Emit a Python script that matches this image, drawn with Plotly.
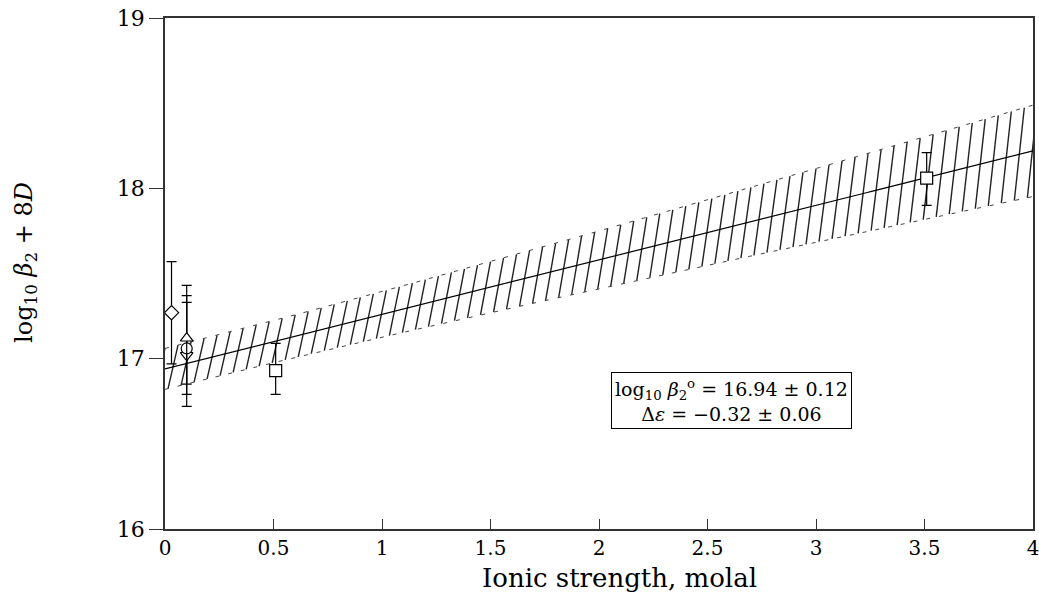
import numpy as np
import plotly.graph_objects as go

# ---- data ----
fit_intercept = 16.94
fit_intercept_err = 0.12
fit_slope = 0.32          # = -Δε
fit_slope_err = 0.06

diamond_I = [0.03]
diamond_y = [17.27]
diamond_err_plus = [0.30]
diamond_err_minus = [0.30]

tri_up_I = [0.10]
tri_up_y = [17.12]
tri_up_err_plus = [0.31]
tri_up_err_minus = [0.27]

circle_I = [0.10]
circle_y = [17.06]
circle_err_plus = [0.31]
circle_err_minus = [0.27]

tri_down_I = [0.10]
tri_down_y = [17.02]
tri_down_err_plus = [0.31]
tri_down_err_minus = [0.30]

square_I = [0.51, 3.51]
square_y = [16.93, 18.06]
square_err_plus = [0.16, 0.15]
square_err_minus = [0.14, 0.16]

x_ticks = [0, 0.5, 1, 1.5, 2, 2.5, 3, 3.5, 4]
y_ticks = [16, 17, 18, 19]

FONT = "DejaVu Serif"

# ---- fit line and uncertainty band ----
xs = np.linspace(0, 4, 200)
center = fit_intercept + fit_slope * xs
def half(x):
    return np.sqrt(fit_intercept_err**2 + (fit_slope_err * x) ** 2)
lo = center - half(xs)
hi = center + half(xs)

# hatch segments (steep diagonal lines across the band)
hatch_dx = 0.046
hatch_step = 0.06
hx, hy = [], []
for x0 in np.arange(-hatch_dx, 4.0 + hatch_step, hatch_step):
    x1 = x0 + hatch_dx
    y0 = fit_intercept + fit_slope * x0 - half(x0)
    y1 = fit_intercept + fit_slope * x1 + half(x1)
    hx += [x0, x1, None]
    hy += [y0, y1, None]

fig = go.Figure()

fig.add_trace(go.Scatter(x=hx, y=hy, mode="lines",
                         line=dict(color="#222", width=1.4), hoverinfo="skip"))
for b in (lo, hi):
    fig.add_trace(go.Scatter(x=xs, y=b, mode="lines",
                             line=dict(color="#444", width=1, dash="4px,9px"),
                             hoverinfo="skip"))
fig.add_trace(go.Scatter(x=xs, y=center, mode="lines",
                         line=dict(color="black", width=1.2)))

def pts(xv, yv, ep, em, symbol, size):
    fig.add_trace(go.Scatter(
        x=xv, y=yv, mode="markers",
        marker=dict(symbol=symbol, size=size, color="white",
                    line=dict(color="black", width=1.2)),
        error_y=dict(type="data", symmetric=False, array=ep, arrayminus=em,
                     color="black", thickness=1.2, width=5),
    ))

pts(diamond_I, diamond_y, diamond_err_plus, diamond_err_minus, "diamond", 11)
pts(tri_down_I, tri_down_y, tri_down_err_plus, tri_down_err_minus, "triangle-down", 11)
pts(circle_I, circle_y, circle_err_plus, circle_err_minus, "circle", 11)
pts(tri_up_I, tri_up_y, tri_up_err_plus, tri_up_err_minus, "triangle-up", 11)
pts(square_I, square_y, square_err_plus, square_err_minus, "square", 12)

fig.add_annotation(
    x=2.61, y=16.757, xref="x", yref="y",
    text="log<sub>10</sub> <i>β</i><sub>2</sub><sup>o</sup> = 16.94 ± 0.12<br>Δ<i>ε</i> = −0.32 ± 0.06",
    showarrow=False, font=dict(family=FONT, size=19, color="black"),
    bordercolor="black", borderwidth=1, borderpad=3, bgcolor="white", align="center",
)

# axis titles (placed as in the original)
fig.add_annotation(
    x=0.524, y=-0.063, xref="paper", yref="paper", yanchor="top",
    text="Ionic strength, molal", showarrow=False,
    font=dict(family=FONT, size=26, color="black"),
)
fig.add_annotation(
    x=-0.1613, y=0.5225, xref="paper", yref="paper",
    xanchor="center", yanchor="middle", textangle=-90,
    text="log<sub>10</sub> <i>β</i><sub>2</sub> + 8<i>D</i>", showarrow=False,
    font=dict(family=FONT, size=24, color="black"),
)

fig.update_layout(
    width=1039, height=607,
    margin=dict(l=165, r=6, t=18, b=78, autoexpand=False),
    paper_bgcolor="white", plot_bgcolor="white",
    showlegend=False,
    font=dict(family=FONT, color="black"),
)
fig.update_xaxes(
    range=[0, 4], tickvals=x_ticks, ticks="inside", ticklen=10,
    tickcolor="#333", tickwidth=1.2, automargin=False, ticklabeloverflow="allow",
    showline=True, linecolor="#333", linewidth=1.5, mirror=True,
    showgrid=False, zeroline=False,
    tickfont=dict(family=FONT, size=20),
)
fig.update_yaxes(
    range=[16, 19], tickvals=y_ticks, ticks="outside", ticklen=14,
    tickcolor="#333", tickwidth=1.2, automargin=False, ticklabeloverflow="allow",
    showline=True, linecolor="#333", linewidth=1.5, mirror=True,
    showgrid=False, zeroline=False,
    tickfont=dict(family=FONT, size=22),
)

fig.write_html("out.html",
               config={"displayModeBar": False},
               post_script="document.body.style.margin='0';document.body.style.overflow='hidden';")
